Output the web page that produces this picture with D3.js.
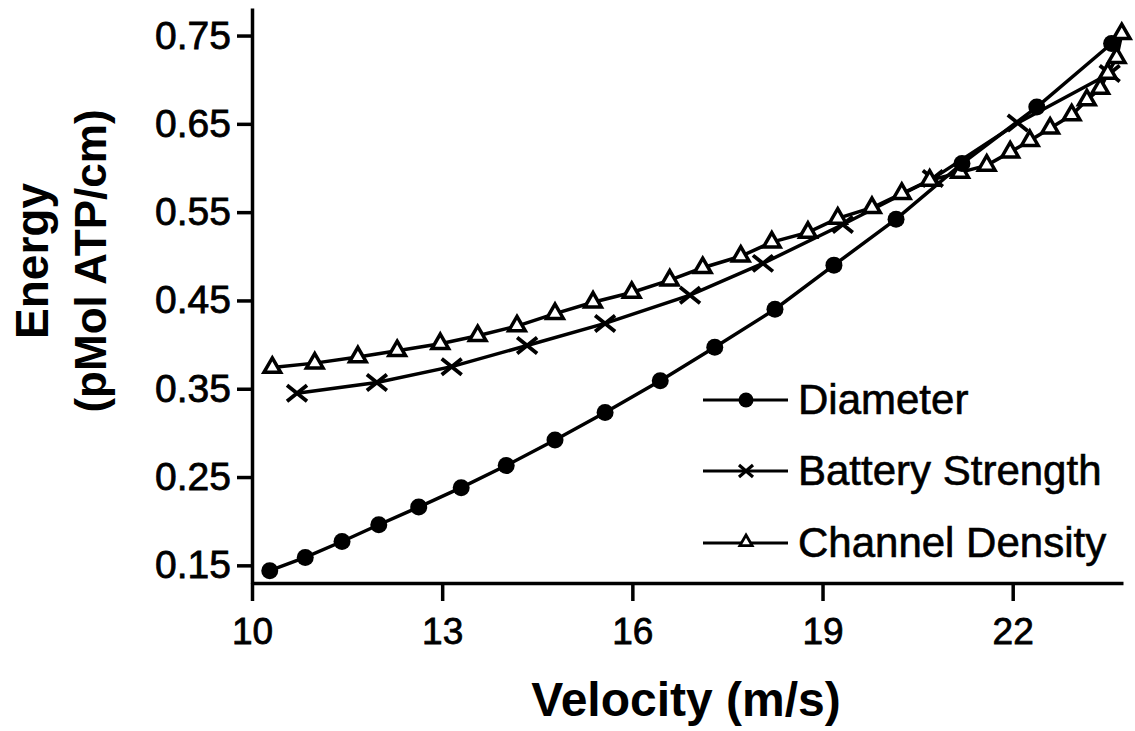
<!DOCTYPE html>
<html>
<head>
<meta charset="utf-8">
<script src="https://cdn.jsdelivr.net/npm/d3@7"></script>
<style>
body { margin: 0; background: #fff; }
text { font-family: "Liberation Sans", Arial, Helvetica, sans-serif; fill: #000; }
</style>
</head>
<body>
<div id="chart"></div>
<script>
// values
var diameterX = [10.28, 10.84, 11.42, 12.00, 12.63, 13.30, 14.01, 14.78, 15.57, 16.44, 17.30, 18.25, 19.18, 20.16, 21.20, 22.38, 23.56];
var diameterY = [0.144, 0.159, 0.177, 0.196, 0.216, 0.238, 0.263, 0.292, 0.323, 0.359, 0.397, 0.440, 0.490, 0.542, 0.605, 0.669, 0.741];

var batteryX = [10.71, 11.97, 13.15, 14.34, 15.57, 16.91, 18.06, 19.32, 20.74, 22.08, 23.53];
var batteryY = [0.345, 0.357, 0.375, 0.399, 0.424, 0.456, 0.492, 0.536, 0.588, 0.651, 0.707];

var channelX = [10.32, 10.99, 11.67, 12.29, 12.97, 13.56, 14.18, 14.78, 15.38, 15.99, 16.59, 17.11, 17.71, 18.20, 18.77,
    19.24, 19.78, 20.25, 20.69, 21.17, 21.59, 21.96, 22.27, 22.59, 22.93, 23.17, 23.38, 23.50, 23.64, 23.72];
var channelY = [0.374, 0.379, 0.386, 0.393, 0.401, 0.410, 0.421, 0.435, 0.448, 0.459, 0.473, 0.487, 0.500, 0.516, 0.527,
    0.543, 0.555, 0.571, 0.586, 0.595, 0.603, 0.618, 0.631, 0.645, 0.660, 0.677, 0.690, 0.707, 0.725, 0.752];

var xTicks = [10, 13, 16, 19, 22];
var yTicks = [0.15, 0.25, 0.35, 0.45, 0.55, 0.65, 0.75];
var legendNames = ["Diameter", "Battery Strength", "Channel Density"];

var svg = d3.select("#chart")
    .append("svg")
    .attr("width", 1135)
    .attr("height", 731);

var x = d3.scaleLinear().domain([10, 23.74]).range([252, 1123]);
var y = d3.scaleLinear().domain([0.13, 0.7812]).range([583, 8]);

// axes
var xAxis = svg.append("g")
    .attr("transform", "translate(0," + y(0.13) + ")")
    .call(d3.axisBottom(x).tickValues(xTicks).tickSize(18).tickSizeOuter(0).tickPadding(17).tickFormat(d3.format("d")));

var yAxis = svg.append("g")
    .attr("transform", "translate(" + x(10) + ",0)")
    .call(d3.axisLeft(y).tickValues(yTicks).tickSize(15).tickSizeOuter(0).tickPadding(6).tickFormat(d3.format(".2f")));

svg.selectAll(".domain").attr("stroke", "#000").attr("stroke-width", 3.5);
svg.selectAll(".tick line").attr("stroke", "#000").attr("stroke-width", 3.5);
xAxis.selectAll(".tick text")
    .style("font-size", "37px")
    .style("font-family", "Liberation Sans, Arial, sans-serif")
    .attr("stroke", "#000").attr("stroke-width", 0.8);
yAxis.selectAll(".tick text")
    .style("font-size", "39px")
    .style("font-family", "Liberation Sans, Arial, sans-serif")
    .attr("stroke", "#000").attr("stroke-width", 0.8);

// axis titles
svg.append("text")
    .attr("x", 686)
    .attr("y", 716)
    .attr("text-anchor", "middle")
    .style("font-size", "48px")
    .style("font-weight", "bold")
    .text("Velocity (m/s)");

svg.append("text")
    .attr("transform", "translate(48,261) rotate(-90)")
    .attr("text-anchor", "middle")
    .style("font-size", "46px")
    .style("font-weight", "bold")
    .text("Energy");

svg.append("text")
    .attr("transform", "translate(106,261) rotate(-90)")
    .attr("text-anchor", "middle")
    .style("font-size", "44px")
    .style("font-weight", "bold")
    .text("(pMol ATP/cm)");

// series
var line = d3.line()
    .x(function (d) { return x(d[0]) })
    .y(function (d) { return y(d[1]) });

function pairs(xs, ys) {
    return xs.map(function (v, i) { return [v, ys[i]] });
}

var channel = pairs(channelX, channelY);
var battery = pairs(batteryX, batteryY);
var diameter = pairs(diameterX, diameterY);

[channel, battery, diameter].forEach(function (data) {
    svg.append("path")
        .datum(data)
        .attr("d", line)
        .attr("fill", "none")
        .attr("stroke", "#000")
        .attr("stroke-width", 3.5);
});

var triangle = d3.symbol().type(d3.symbolTriangle).size(120);
var crossPath = "M-10,-8L10,8M-10,8L10,-8";
var crossSmall = "M-7,-6L7,6M-7,6L7,-6";

svg.append("g").selectAll("path")
    .data(battery)
    .enter()
    .append("path")
    .attr("transform", function (d) { return "translate(" + x(d[0]) + "," + y(d[1]) + ")" })
    .attr("d", crossPath)
    .attr("stroke", "#000")
    .attr("stroke-width", 3.8)
    .attr("fill", "none");

svg.append("g").selectAll("path")
    .data(channel)
    .enter()
    .append("path")
    .attr("transform", function (d) { return "translate(" + x(d[0]) + "," + y(d[1]) + ")" })
    .attr("d", triangle)
    .attr("stroke", "#000")
    .attr("stroke-width", 3.5)
    .attr("fill", "#fff");

svg.append("g").selectAll("circle")
    .data(diameter)
    .enter()
    .append("circle")
    .attr("cx", function (d) { return x(d[0]) })
    .attr("cy", function (d) { return y(d[1]) })
    .attr("r", 8.5)
    .attr("fill", "#000");

// legend
var legendY = [400, 471, 543];
var legend = svg.append("g");
legendNames.forEach(function (name, i) {
    var ly = legendY[i];
    legend.append("line")
        .attr("x1", 703).attr("x2", 788)
        .attr("y1", ly).attr("y2", ly)
        .attr("stroke", "#000")
        .attr("stroke-width", 3);
    if (i == 0) {
        legend.append("circle").attr("cx", 746).attr("cy", ly).attr("r", 7.5).attr("fill", "#000");
    } else if (i == 1) {
        legend.append("path").attr("transform", "translate(746," + ly + ")").attr("d", crossSmall)
            .attr("stroke", "#000").attr("stroke-width", 3.2).attr("fill", "none");
    } else {
        legend.append("path").attr("transform", "translate(746," + (ly - 1) + ")").attr("d", d3.symbol().type(d3.symbolTriangle).size(65))
            .attr("stroke", "#000").attr("stroke-width", 2.8).attr("fill", "#fff");
    }
    legend.append("text")
        .attr("x", 798)
        .attr("y", ly + 14)
        .style("font-size", "42px")
        .attr("stroke", "#000")
        .attr("stroke-width", 0.6)
        .text(name);
});
</script>
</body>
</html>
